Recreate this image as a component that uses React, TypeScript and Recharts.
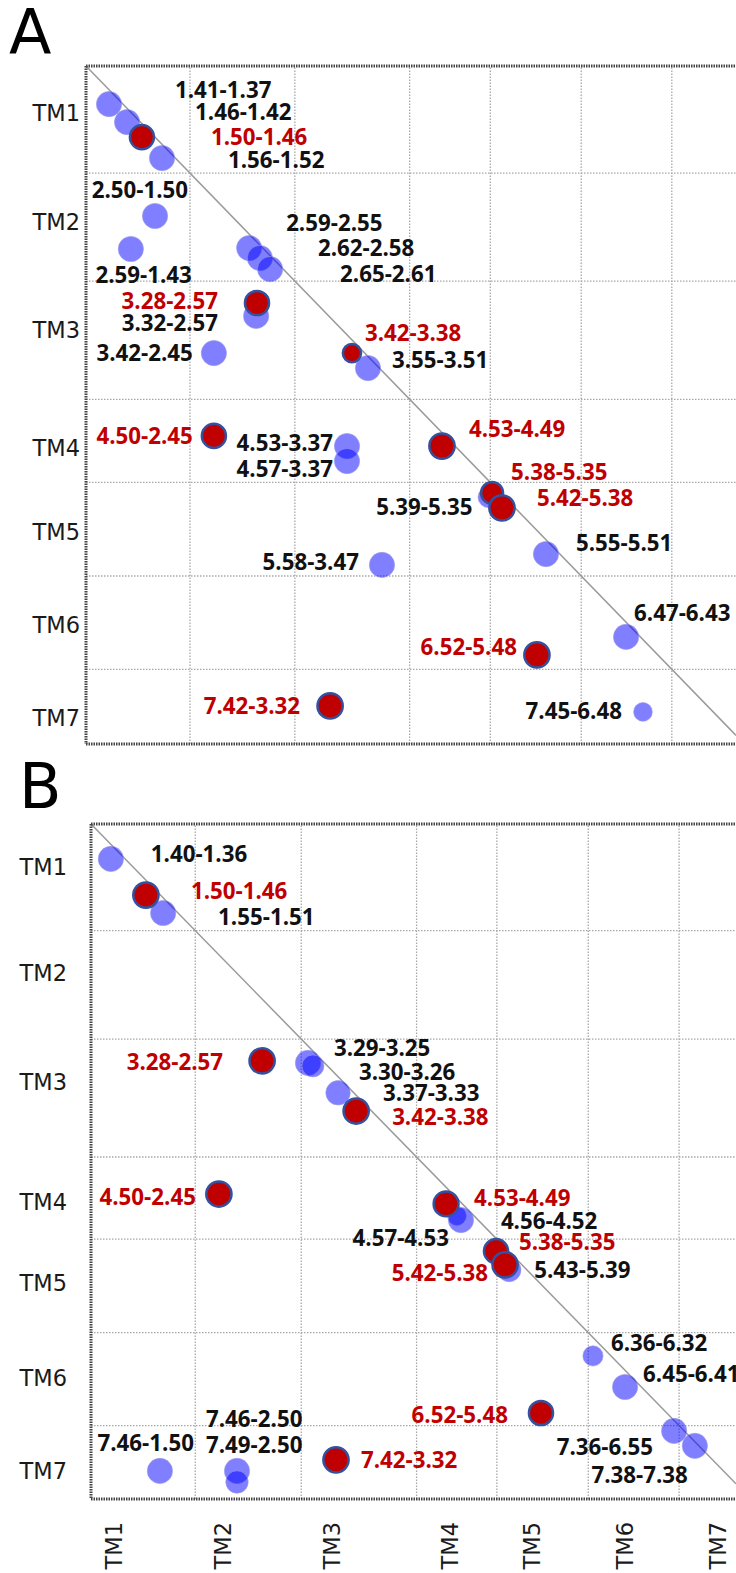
import { ScatterChart, Scatter, XAxis, YAxis, ZAxis, ReferenceLine } from 'recharts';

// both axes use the same sequence-position units, so the diagonal is x = y
const tmNames = ['TM1', 'TM2', 'TM3', 'TM4', 'TM5', 'TM6', 'TM7'];
const axisEnd = 226;

const boundsA = [35.7, 71.7, 111.1, 138.8, 170, 201.1];
const boundsB = [35.7, 72, 111.5, 139, 170.3, 201.4];

const yTicksA = [15.7, 52, 88, 127.3, 155.3, 186.3, 217.3];
const yTicksB = [14.4, 49.9, 86.4, 126.6, 153.7, 185.5, 216.6];
const xTicksB = [7.9, 45.2, 82.5, 122.9, 151, 182.9, 214.7];

type Pt = { label: string; x: number; y: number; n: number };

const panelABlue: Pt[] = [
  { label: '1.41-1.37', x: 7.9, y: 12.7, n: 3 },
  { label: '1.46-1.42', x: 14.1, y: 18.7, n: 3 },
  { label: '1.56-1.52', x: 26.1, y: 30.7, n: 3 },
  { label: '2.50-1.50', x: 23.7, y: 50, n: 3 },
  { label: '2.59-1.43', x: 15.4, y: 61, n: 3 },
  { label: '2.59-2.55', x: 56, y: 60.7, n: 3 },
  { label: '2.62-2.58', x: 59.7, y: 64, n: 3 },
  { label: '2.65-2.61', x: 63.2, y: 67.7, n: 3 },
  { label: '3.32-2.57', x: 58.4, y: 83.3, n: 3 },
  { label: '3.42-2.45', x: 43.9, y: 95.7, n: 3 },
  { label: '3.55-3.51', x: 96.8, y: 100.7, n: 3 },
  { label: '4.53-3.37', x: 89.6, y: 126.7, n: 3 },
  { label: '4.57-3.37', x: 89.6, y: 131.7, n: 3 },
  { label: '5.39-5.35', x: 138.2, y: 143.7, n: 2 },
  { label: '5.58-3.47', x: 101.6, y: 166.3, n: 3 },
  { label: '5.55-5.51', x: 157.9, y: 162.7, n: 3 },
  { label: '6.47-6.43', x: 185.4, y: 190.3, n: 3 },
  { label: '7.45-6.48', x: 191.2, y: 215.3, n: 1.5 },
];

const panelARed: Pt[] = [
  { label: '1.50-1.46', x: 19.2, y: 23.7, n: 2.7 },
  { label: '3.28-2.57', x: 58.7, y: 79, n: 2.7 },
  { label: '3.42-3.38', x: 91.3, y: 95.7, n: 1.4 },
  { label: '4.50-2.45', x: 43.9, y: 123.3, n: 2.7 },
  { label: '4.53-4.49', x: 122.2, y: 126.7, n: 3 },
  { label: '5.38-5.35', x: 139.4, y: 142.3, n: 2.2 },
  { label: '5.42-5.38', x: 142.8, y: 147.3, n: 3 },
  { label: '6.52-5.48', x: 154.8, y: 196.3, n: 3 },
  { label: '7.42-3.32', x: 83.8, y: 213.3, n: 3 },
];

const panelBBlue: Pt[] = [
  { label: '1.40-1.36', x: 6.8, y: 11.7, n: 3 },
  { label: '1.55-1.51', x: 24.7, y: 29.8, n: 3 },
  { label: '3.29-3.25', x: 74.3, y: 80, n: 3 },
  { label: '3.30-3.26', x: 76, y: 81, n: 2.2 },
  { label: '3.37-3.33', x: 84.6, y: 90, n: 2.8 },
  { label: '4.56-4.52', x: 125.3, y: 131.2, n: 1.5 },
  { label: '4.57-4.53', x: 126.7, y: 132.6, n: 3 },
  { label: '5.43-5.39', x: 143.2, y: 149.3, n: 2.6 },
  { label: '6.36-6.32', x: 171.9, y: 178.1, n: 1.8 },
  { label: '6.45-6.41', x: 182.9, y: 188.5, n: 3 },
  { label: '7.36-6.55', x: 199.7, y: 203.2, n: 3 },
  { label: '7.38-7.38', x: 206.8, y: 208.2, n: 3 },
  { label: '7.46-1.50', x: 23.6, y: 216.6, n: 3 },
  { label: '7.46-2.50', x: 50, y: 216.6, n: 3 },
  { label: '7.49-2.50', x: 50, y: 220.3, n: 2.3 },
];

const panelBRed: Pt[] = [
  { label: '1.50-1.46', x: 18.8, y: 23.8, n: 3 },
  { label: '3.28-2.57', x: 58.6, y: 79.3, n: 3 },
  { label: '3.42-3.38', x: 90.8, y: 96.1, n: 3 },
  { label: '4.50-2.45', x: 43.8, y: 123.9, n: 3 },
  { label: '4.53-4.49', x: 121.6, y: 127.2, n: 2.9 },
  { label: '5.38-5.35', x: 138.7, y: 143, n: 2.7 },
  { label: '5.42-5.38', x: 141.8, y: 147.6, n: 3 },
  { label: '6.52-5.48', x: 154.1, y: 197.2, n: 2.7 },
  { label: '7.42-3.32', x: 83.9, y: 212.9, n: 3 },
];

// where each label sits relative to its circle: [dx, dy, anchor]
type LabelPos = Record<string, [number, number, 'start' | 'end']>;

const labelPosA: LabelPos = {
  '1.41-1.37': [66, -14, 'start'],
  '1.46-1.42': [68, -10, 'start'],
  '1.50-1.46': [69, 0, 'start'],
  '1.56-1.52': [66, 2, 'start'],
  '2.50-1.50': [33, -26, 'end'],
  '2.59-1.43': [61, 26, 'end'],
  '2.59-2.55': [37, -25, 'start'],
  '2.62-2.58': [58, -10, 'start'],
  '2.65-2.61': [70, 5, 'start'],
  '3.28-2.57': [-39, -2, 'end'],
  '3.32-2.57': [-38, 7, 'end'],
  '3.42-2.45': [-21, 0, 'end'],
  '3.42-3.38': [13, -20, 'start'],
  '3.55-3.51': [24, -8, 'start'],
  '4.50-2.45': [-21, 0, 'end'],
  '4.53-3.37': [-14, -3, 'end'],
  '4.57-3.37': [-14, 8, 'end'],
  '5.58-3.47': [-23, -3, 'end'],
  '7.42-3.32': [-30, 0, 'end'],
  '4.53-4.49': [27, -17, 'start'],
  '5.38-5.35': [19, -21, 'start'],
  '5.39-5.35': [-16, 10, 'end'],
  '5.42-5.38': [35, -10, 'start'],
  '5.55-5.51': [30, -11, 'start'],
  '6.47-6.43': [8, -24, 'start'],
  '6.52-5.48': [-20, -8, 'end'],
  '7.45-6.48': [-21, -1, 'end'],
};

const labelPosB: LabelPos = {
  '1.40-1.36': [40, -5, 'start'],
  '1.50-1.46': [45, -4, 'start'],
  '1.55-1.51': [55, 4, 'start'],
  '3.28-2.57': [-39, 1, 'end'],
  '3.29-3.25': [26, -15, 'start'],
  '3.30-3.26': [46, 6, 'start'],
  '3.37-3.33': [45, 0, 'start'],
  '3.42-3.38': [36, 6, 'start'],
  '4.50-2.45': [-23, 3, 'end'],
  '7.46-1.50': [34, -28, 'end'],
  '7.46-2.50': [-31, -52, 'start'],
  '7.49-2.50': [-31, -37, 'start'],
  '7.42-3.32': [25, 0, 'start'],
  '4.53-4.49': [28, -6, 'start'],
  '4.56-4.52': [44, 5, 'start'],
  '4.57-4.53': [-12, 18, 'end'],
  '5.38-5.35': [23, -9, 'start'],
  '5.42-5.38': [-17, 8, 'end'],
  '5.43-5.39': [25, 0, 'start'],
  '6.36-6.32': [18, -13, 'start'],
  '6.45-6.41': [18, -13, 'start'],
  '6.52-5.48': [-33, 2, 'end'],
  '7.36-6.55': [-21, 16, 'end'],
  '7.38-7.38': [-7, 29, 'end'],
};

const labelFont = { fontFamily: "'Open Sans', sans-serif", fontWeight: 700, fontSize: 22.3 };
const axisFont = { fontFamily: "'DejaVu Sans', sans-serif", fontSize: 22.5, fill: '#1a1a1a' };

const makeShape = (red: boolean, pos: LabelPos) => (props: any) => {
  const { cx, cy, payload } = props;
  const r = props.width ? props.width / 2 : Math.sqrt((props.size ?? 400) / Math.PI);
  const [dx, dy, anchor] = pos[payload.label] ?? [r + 6, 0, 'start'];
  return (
    <g>
      {red ? (
        <circle cx={cx} cy={cy} r={r} fill="#c00000" stroke="#34519f" strokeWidth={2.5} />
      ) : (
        <circle cx={cx} cy={cy} r={r} fill="#0000ff" fillOpacity={0.5} stroke="#9a9ae8" strokeOpacity={0.6} strokeWidth={1} />
      )}
      <text x={cx + dx} y={cy + dy} dy="0.36em" textAnchor={anchor} fill={red ? '#c00000' : '#111'} {...labelFont}>
        {payload.label}
      </text>
    </g>
  );
};

const frameStyle = { stroke: '#444', strokeWidth: 3, strokeDasharray: '1.5 1' };

interface PanelProps {
  blue: Pt[];
  red: Pt[];
  bounds: number[];
  yTicks: number[];
  xTicks?: number[];
  xMax: number;
  pos: LabelPos;
  width: number;
  height: number;
  top: number;
  yAxisWidth: number;
  yTickMargin: number;
  xAxisHeight: number;
}

const Panel = ({ blue, red, bounds, yTicks, xTicks, xMax, pos, width, height, top, yAxisWidth, yTickMargin, xAxisHeight }: PanelProps) => {
  const showX = !!xTicks;
  return (
    <ScatterChart width={width} height={height} margin={{ top, right: 0, bottom: showX ? 0 : height - top - 678, left: 0 }}>
      <XAxis
        type="number"
        dataKey="x"
        domain={[0, xMax]}
        allowDataOverflow
        hide={!showX}
        ticks={xTicks}
        interval={0}
        height={xAxisHeight}
        axisLine={false}
        tickLine={false}
        tickSize={0}
        tickMargin={23}
        tick={(p: any) => (
          <text
            x={p.x}
            y={p.y}
            transform={`rotate(-90 ${p.x} ${p.y})`}
            textAnchor="end"
            dy="0.36em"
            {...axisFont}
          >
            {tmNames[(xTicks ?? []).indexOf(p.payload.value)]}
          </text>
        )}
      />
      <YAxis
        type="number"
        dataKey="y"
        domain={[0, axisEnd]}
        reversed
        allowDataOverflow
        ticks={yTicks}
        interval={0}
        width={yAxisWidth}
        axisLine={false}
        tickLine={false}
        tickSize={0}
        tickMargin={yTickMargin}
        tickFormatter={(v: number) => tmNames[yTicks.indexOf(v)]}
        tick={axisFont}
      />
      <ZAxis type="number" dataKey="n" domain={[1, 3]} range={[200, 500]} />
      {bounds.map((b) => (
        <ReferenceLine key={`v${b}`} x={b} stroke="#a8a8a8" strokeWidth={1.3} strokeDasharray="1.5 1.5" />
      ))}
      {bounds.map((b) => (
        <ReferenceLine key={`h${b}`} y={b} stroke="#a8a8a8" strokeWidth={1.3} strokeDasharray="1.5 1.5" />
      ))}
      <ReferenceLine segment={[{ x: 0, y: 0 }, { x: xMax, y: xMax }]} stroke="#9a9a9a" strokeWidth={1.5} />
      <ReferenceLine segment={[{ x: 0, y: 0 }, { x: xMax, y: 0 }]} {...frameStyle} />
      <ReferenceLine segment={[{ x: 0, y: 0 }, { x: 0, y: axisEnd }]} {...frameStyle} />
      <ReferenceLine segment={[{ x: 0, y: axisEnd }, { x: xMax, y: axisEnd }]} {...frameStyle} />
      <Scatter data={blue} isAnimationActive={false} shape={makeShape(false, pos)} />
      <Scatter data={red} isAnimationActive={false} shape={makeShape(true, pos)} />
    </ScatterChart>
  );
};

export default function App() {
  return (
    <div style={{ position: 'relative', width: 736, height: 1573, overflow: 'hidden', background: '#fff' }}>
      <style>{'body{margin:0;overflow:hidden}'}</style>
      <div style={{ position: 'absolute', left: 0, top: 0 }}>
        <Panel
          blue={panelABlue}
          red={panelARed}
          bounds={boundsA}
          yTicks={yTicksA}
          xMax={650 / 2.913}
          pos={labelPosA}
          width={736}
          height={760}
          top={66}
          yAxisWidth={86}
          yTickMargin={6}
          xAxisHeight={0}
        />
      </div>
      <div style={{ position: 'absolute', left: 0, top: 760 }}>
        <Panel
          blue={panelBBlue}
          red={panelBRed}
          bounds={boundsB}
          yTicks={yTicksB}
          xTicks={xTicksB}
          xMax={645 / 2.92}
          pos={labelPosB}
          width={736}
          height={813}
          top={64}
          yAxisWidth={91}
          yTickMargin={24}
          xAxisHeight={74}
        />
      </div>
      <svg width={736} height={1573} style={{ position: 'absolute', left: 0, top: 0, pointerEvents: 'none' }}>
        <text x={9} y={54} fontFamily="'DejaVu Sans', sans-serif" fontSize={62} fill="#000">A</text>
        <text x={19} y={808} fontFamily="'DejaVu Sans', sans-serif" fontSize={62} fill="#000">B</text>
      </svg>
    </div>
  );
}
